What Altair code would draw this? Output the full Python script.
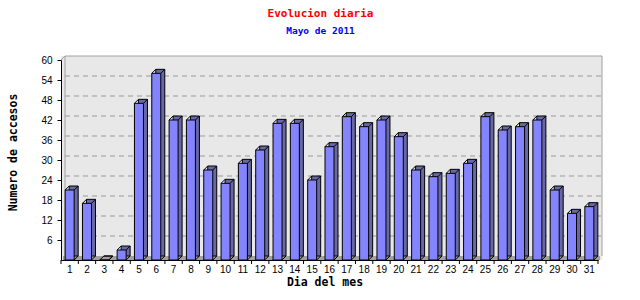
import altair as alt
import pandas as pd

days = list(range(1, 32))
visits = [21, 17, 0, 3, 47, 56, 42, 42, 27, 23, 29, 33, 41, 41, 24, 34,
          43, 40, 42, 37, 27, 25, 26, 29, 43, 39, 40, 42, 21, 14, 16]
y_ticks = [6, 12, 18, 24, 30, 36, 42, 48, 54, 60]

title_text = "Evolucion diaria"
subtitle_text = "Mayo de 2011"
x_title = "Dia del mes"
y_title = "Numero de accesos"

W, H = 537, 200
D = 4  # 3D depth in px

df = pd.DataFrame({"day": days, "value": visits})
grid_df = pd.DataFrame({"value": y_ticks[:-1]})
one = pd.DataFrame({"k": [0]})

FRONT = "#8484ff"
SIDE = "#6868a6"
WALL = "#e8e8e8"
EDGE = "#a0a0a0"

xscale = alt.Scale(paddingInner=0, paddingOuter=0)
yscale = alt.Scale(domain=[0, 60], nice=False, zero=True)

x_axis = alt.Axis(
    title=x_title, labelAngle=0, ticks=False, tickSize=0, labelPadding=4,
    domainColor="black", labelColor="black", labelFont="Liberation Sans",
    labelFontSize=10, titleFont="DejaVu Sans Mono", titleFontSize=11.5,
    titleFontWeight="bold", titleColor="black", titleX=W / 2 - 5,
    titleY=22, titleBaseline="middle", grid=False, zindex=1,
    labelOverlap=False,
)
y_axis = alt.Axis(
    title=y_title, values=y_ticks, tickSize=4, labelPadding=5, ticks=True,
    domainColor="black", tickColor="black", labelColor="black",
    labelFont="Liberation Sans", labelFontSize=10, grid=False,
    titleFont="DejaVu Sans Mono", titleFontSize=11.5, titleFontWeight="bold",
    titleColor="black", titleX=-48, titleY=92, titleBaseline="middle",
    titleAngle=270, zindex=1, labelOverlap=False,
)

X = alt.X("day:O", scale=xscale, axis=x_axis)
Y = alt.Y("value:Q", scale=yscale, axis=y_axis)

wall = alt.Chart(one).mark_rect(fill=WALL).encode(
    x=alt.value(0), x2=alt.value(W + D), y=alt.value(-D), y2=alt.value(H)
)
floor = alt.Chart(one).mark_rect(fill=EDGE).encode(
    x=alt.value(2), x2=alt.value(W + 2), y=alt.value(H - D), y2=alt.value(H)
)
grid = alt.Chart(grid_df).mark_rule(color="#999999", strokeDash=[5, 4], yOffset=-D).encode(
    y=Y, x=alt.value(D), x2=alt.value(W + D),
)
frame_top = alt.Chart(one).mark_rule(color=EDGE).encode(
    x=alt.value(D), x2=alt.value(W + D), y=alt.value(-D)
)
frame_right = alt.Chart(one).mark_rule(color=EDGE).encode(
    x=alt.value(W + D), y=alt.value(-D), y2=alt.value(H - D)
)
frame_left = alt.Chart(one).mark_rule(color=EDGE).encode(
    x=alt.value(D), y=alt.value(-D), y2=alt.value(H - D)
)
frame_diag = alt.Chart(one).mark_rule(color=EDGE).encode(
    x=alt.value(0), x2=alt.value(D), y=alt.value(0), y2=alt.value(-D)
)

back = alt.Chart(df).mark_bar(
    size=9, fill=SIDE, stroke="black", strokeWidth=1,
    xOffset=D, yOffset=-D, y2Offset=-D
).encode(x=X, y=Y)

front = alt.Chart(df).mark_bar(
    size=9, fill=FRONT, stroke="black", strokeWidth=1
).encode(x=X, y=Y)

base = alt.Chart(df).transform_calculate(zero="0")
diag_tl = base.mark_rule(color="black", xOffset=-4.5, x2Offset=-0.5, y2Offset=-D).encode(
    x=X, x2="day:O", y=Y, y2="value:Q",
)
diag_tr = base.mark_rule(color="black", xOffset=4.5, x2Offset=8.5, y2Offset=-D).encode(
    x=X, x2="day:O", y=Y, y2="value:Q",
)
diag_br = base.mark_rule(color="black", xOffset=4.5, x2Offset=8.5, y2Offset=-D).encode(
    x=X, x2="day:O", y=alt.Y("zero:Q", scale=yscale, axis=y_axis), y2="zero:Q",
)

xticks = alt.Chart(df).mark_rule(color="black").encode(
    x=alt.X("day:O", scale=xscale, axis=x_axis, bandPosition=0),
    y=alt.value(H), y2=alt.value(H + 4),
)
xtick_end = alt.Chart(one).mark_rule(color="black").encode(
    x=alt.value(W), y=alt.value(H), y2=alt.value(H + 4)
)

chart = alt.layer(
    wall, grid, floor, frame_top, frame_right, frame_left, frame_diag,
    back, front, diag_tl, diag_tr, diag_br, xticks, xtick_end,
).properties(
    width=W, height=H,
    title=alt.TitleParams(
        text=title_text, subtitle=subtitle_text, anchor="middle", dx=-9,
        font="DejaVu Sans Mono", fontSize=11, fontWeight="bold", color="red",
        subtitleFont="DejaVu Sans Mono", subtitleFontSize=9.5,
        subtitleFontWeight="bold", subtitleColor="blue", subtitlePadding=7,
        offset=20,
    ),
    autosize=alt.AutoSizeParams(type="none"),
    padding={"left": 61, "top": 60, "right": 42, "bottom": 40},
).configure_view(stroke=None).configure(background="white")

chart.save("out.html", embed_options={"renderer": "svg", "actions": False})
